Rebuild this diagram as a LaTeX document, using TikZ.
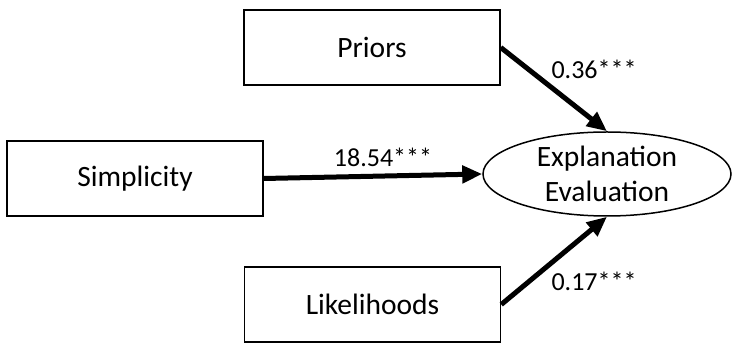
\documentclass[tikz,border=0pt]{standalone}
\usepackage{fontspec}
\setmainfont{Carlito}
\usetikzlibrary{shapes.geometric,arrows.meta}
\begin{document}
\begin{tikzpicture}[x=1pt,y=-1pt,
  box/.style={draw,line width=1.5pt,rectangle,inner sep=0pt,minimum width=256pt,minimum height=75pt,font=\fontsize{29.5}{34}\selectfont},
  oval/.style={draw,line width=1.5pt,ellipse,inner sep=0pt,minimum width=248pt,minimum height=84pt,align=center,font=\fontsize{29.5}{35}\selectfont},
  path/.style={line width=5pt,-{Triangle[length=20pt,width=17pt]}},
  coef/.style={font=\fontsize{26}{30}\selectfont,inner sep=0pt}]
\useasboundingbox (0,0) rectangle (732,344);
\node[box] (P) at (372,47.5) {Priors};
\node[box] (S) at (135,178.5) {Simplicity};
\node[box] (L) at (372.5,304.5) {Likelihoods};
\node[oval] (E) at (607,174) {Explanation\\Evaluation};
\draw[path] (P.east) -- (E.north);
\draw[path] (S.east) -- (E.west);
\draw[path] (L.east) -- (E.south);
\node[coef] (c1) at (594,69) {0.36***};
\node[coef] (c2) at (383,157) {18.54***};
\node[coef] (c3) at (594,281) {0.17***};
\end{tikzpicture}
\end{document}
